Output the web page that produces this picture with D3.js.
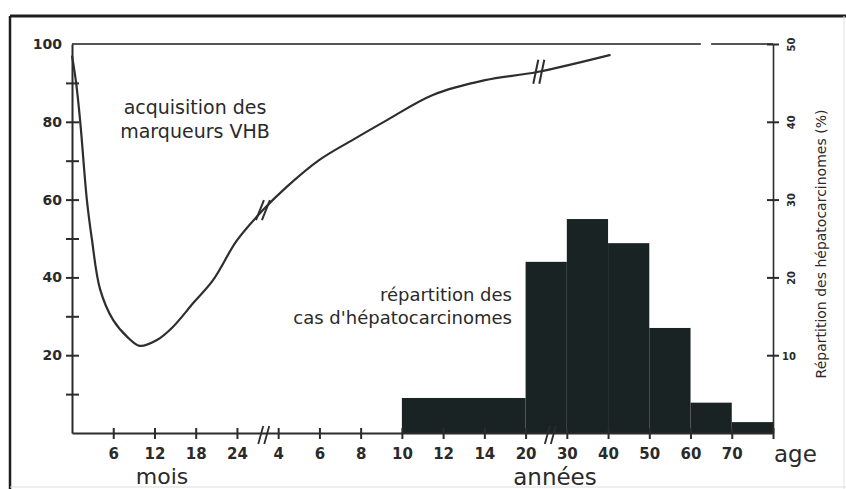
<!DOCTYPE html>
<html><head><meta charset="utf-8">
<script src="https://cdn.jsdelivr.net/npm/d3@7"></script>
<style>
html,body{margin:0;padding:0;background:#fff;}
svg{display:block;}
text{font-family:"DejaVu Sans",sans-serif;fill:#2a2a2a;}
</style></head><body>
<script>
// ---- data ----
const curveAges   = [0, 0.05, 0.1, 0.18, 0.24, 0.34, 0.5, 0.67, 0.82, 1.03, 1.22, 1.47, 1.71, 2.0, 3.26, 4.4, 6.0, 7.6, 9.3, 11.5, 14.1, 22.8, 40.6];
const curveValues = [97, 90, 80, 60, 50, 37, 29, 24.7, 22.4, 23.9, 27.2, 33.4, 39.3, 49.5, 57.3, 63.2, 70.2, 75.3, 80.5, 86.9, 90.7, 92.8, 97.2];

const binStarts = [10, 20, 30, 40, 50, 60, 70];
const binEnds   = [20, 30, 40, 50, 60, 70, 80];
const binValues = [4.5, 22, 27.5, 24.4, 13.5, 3.9, 1.4];

const xTickAges   = [0, 0.5, 1, 1.5, 2, 4, 6, 8, 10, 12, 14, 20, 30, 40, 50, 60, 70, 80];
const xTickLabels = ["", "6", "12", "18", "24", "4", "6", "8", "10", "12", "14", "20", "30", "40", "50", "60", "70", ""];
const leftTicks   = [10, 20, 30, 40, 50, 60, 70, 80, 90, 100];
const leftLabels  = ["", "20", "", "40", "", "60", "", "80", "", "100"];
const rightTicks  = [10, 20, 30, 40, 50];
const rightLabels = ["10", "20", "30", "40", "50"];
const axisBreakAges  = [3.3, 26];
const curveBreakAges = [3.26, 23.2];

// ---- layout ----
const W = 846, H = 489;
const x0 = 72, x1 = 773, yTop = 44, yBot = 433;
const step = (x1 - x0) / 17;

const svg = d3.select("body").append("svg").attr("width", W).attr("height", H);

// piecewise age scale (months part, break, years, compressed decades)
const x = d3.scaleLinear()
  .domain([0, 2, 4, 14, 20, 30, 80])
  .range([x0, x0 + 4*step, x0 + 5*step, x0 + 10*step, x0 + 11*step, x0 + 12*step, x0 + 17*step]);
const yL = d3.scaleLinear().domain([0, 100]).range([yBot, yTop]);
const yR = d3.scaleLinear().domain([0, 50]).range([yBot, yTop]);

const ink = "#2b2b2b";

// outer frame
svg.append("line").attr("x1", 10).attr("x2", W).attr("y1", 16).attr("y2", 16).attr("stroke", "#1e1e1e").attr("stroke-width", 3);
svg.append("line").attr("x1", 10).attr("x2", 10).attr("y1", 16).attr("y2", H).attr("stroke", "#1e1e1e").attr("stroke-width", 2.5);
svg.append("line").attr("x1", 10).attr("x2", W).attr("y1", 487).attr("y2", 487).attr("stroke", "#ddd").attr("stroke-width", 1);
svg.append("line").attr("x1", 844).attr("x2", 844).attr("y1", 16).attr("y2", H).attr("stroke", "#e2e2e2").attr("stroke-width", 1);

// top line (100 %) with small gap
const gap = [62.5, 65];
svg.append("line").attr("x1", x(0)).attr("x2", x(gap[0])).attr("y1", yL(100)).attr("y2", yL(100)).attr("stroke", "#555").attr("stroke-width", 2);
svg.append("line").attr("x1", x(gap[1])).attr("x2", x(80)).attr("y1", yL(100)).attr("y2", yL(100)).attr("stroke", "#555").attr("stroke-width", 2);

// histogram
svg.append("g").selectAll("rect").data(binValues).join("rect")
  .attr("x", (d, i) => x(binStarts[i]))
  .attr("width", (d, i) => x(binEnds[i]) - x(binStarts[i]))
  .attr("y", d => yR(d))
  .attr("height", d => yR(0) - yR(d))
  .attr("fill", "#1a2323");

// left axis
const gL = svg.append("g").attr("transform", `translate(${x0},0)`)
  .call(d3.axisLeft(yL).tickValues(leftTicks).tickFormat((d, i) => leftLabels[i]).tickSizeOuter(0).tickSizeInner(6).tickPadding(4));
gL.select(".domain").attr("stroke", ink).attr("stroke-width", 2);
gL.selectAll(".tick line").attr("x1", -6).attr("x2", 7).attr("stroke", ink).attr("stroke-width", 2)
  .filter(d => d === 100).remove();
gL.selectAll(".tick text").attr("font-size", 14).attr("font-weight", "bold").attr("fill", "#333").attr("font-family", "DejaVu Sans");

// right axis
const gR = svg.append("g").attr("transform", `translate(${x1},0)`)
  .call(d3.axisRight(yR).tickValues(rightTicks).tickFormat((d, i) => rightLabels[i]).tickSizeOuter(0).tickSizeInner(6));
gR.select(".domain").attr("stroke", ink).attr("stroke-width", 1.6);
gR.selectAll(".tick line").attr("x1", -6).attr("x2", 6).attr("stroke", ink).attr("stroke-width", 2);
gR.selectAll(".tick text").attr("font-size", 10).attr("font-weight", "bold").attr("fill", "#333").attr("font-family", "DejaVu Sans")
  .attr("x", 0).attr("dy", 0)
  .attr("transform", d => d === 10 ? "translate(16,4)" : "translate(18,0) rotate(-90)")
  .attr("text-anchor", "middle")
  .attr("dominant-baseline", d => d === 10 ? "auto" : "central");

// bottom axis
const gB = svg.append("g").attr("transform", `translate(0,${yBot})`)
  .call(d3.axisBottom(x).tickValues(xTickAges).tickFormat((d, i) => xTickLabels[i]).tickSizeOuter(0).tickSizeInner(6).tickPadding(9));
gB.select(".domain").attr("stroke", ink).attr("stroke-width", 2);
gB.selectAll(".tick line").attr("y1", -5).attr("y2", 6).attr("stroke", ink).attr("stroke-width", 2)
  .filter(d => d === 0).remove();
gB.selectAll(".tick text").attr("font-size", 15).attr("font-weight", "bold").attr("fill", "#333").attr("font-family", "DejaVu Sans");

// axis break marks
axisBreakAges.forEach(a => {
  const cx = x(a);
  [-3, 3].forEach(o => {
    svg.append("line").attr("x1", cx + o - 2.5).attr("y1", yBot + 11).attr("x2", cx + o + 2.5).attr("y2", yBot - 7)
      .attr("stroke", ink).attr("stroke-width", 1.8);
  });
});

// curve
const line = d3.line().x((d, i) => x(curveAges[i])).y(d => yL(d)).curve(d3.curveCatmullRom.alpha(0.5));
const path = svg.append("path").datum(curveValues).attr("d", line)
  .attr("fill", "none").attr("stroke", "#2e2e2e").attr("stroke-width", 2.2);

// curve break marks
const node = path.node(), total = node.getTotalLength();
function pointAtX(tx) {
  let lo = 0, hi = total;
  for (let k = 0; k < 40; k++) {
    const mid = (lo + hi) / 2;
    if (node.getPointAtLength(mid).x < tx) lo = mid; else hi = mid;
  }
  return node.getPointAtLength(lo);
}
curveBreakAges.forEach((a, j) => {
  const p = pointAtX(x(a));
  const dx = j === 0 ? 4 : 2.5, dy = j === 0 ? 10 : 12;
  [-3, 3].forEach(o => {
    svg.append("line").attr("x1", p.x + o - dx).attr("y1", p.y + dy).attr("x2", p.x + o + dx).attr("y2", p.y - dy)
      .attr("stroke", "#2e2e2e").attr("stroke-width", 2);
  });
});

// annotations
const ann = svg.append("g");
ann.append("text").attr("x", 195).attr("y", 114).attr("text-anchor", "middle").attr("font-size", 19).text("acquisition des");
ann.append("text").attr("x", 195).attr("y", 138).attr("text-anchor", "middle").attr("font-size", 19).text("marqueurs VHB");
ann.append("text").attr("x", 512).attr("y", 301).attr("text-anchor", "end").attr("font-size", 18).text("répartition des");
ann.append("text").attr("x", 512).attr("y", 324).attr("text-anchor", "end").attr("font-size", 18).text("cas d'hépatocarcinomes");

svg.append("text").attr("x", 162).attr("y", 484).attr("text-anchor", "middle").attr("font-size", 22).text("mois");
svg.append("text").attr("x", 555).attr("y", 485).attr("text-anchor", "middle").attr("font-size", 23).text("années");
svg.append("text").attr("x", x(80) + 1).attr("y", 462).attr("text-anchor", "start").attr("font-size", 23).text("age");

svg.append("text").attr("transform", `translate(826,${(110 + 378) / 2}) rotate(-90)`)
  .attr("text-anchor", "middle").attr("font-size", 14).attr("fill", "#333").text("Répartition des hépatocarcinomes (%)");
</script>
</body></html>
